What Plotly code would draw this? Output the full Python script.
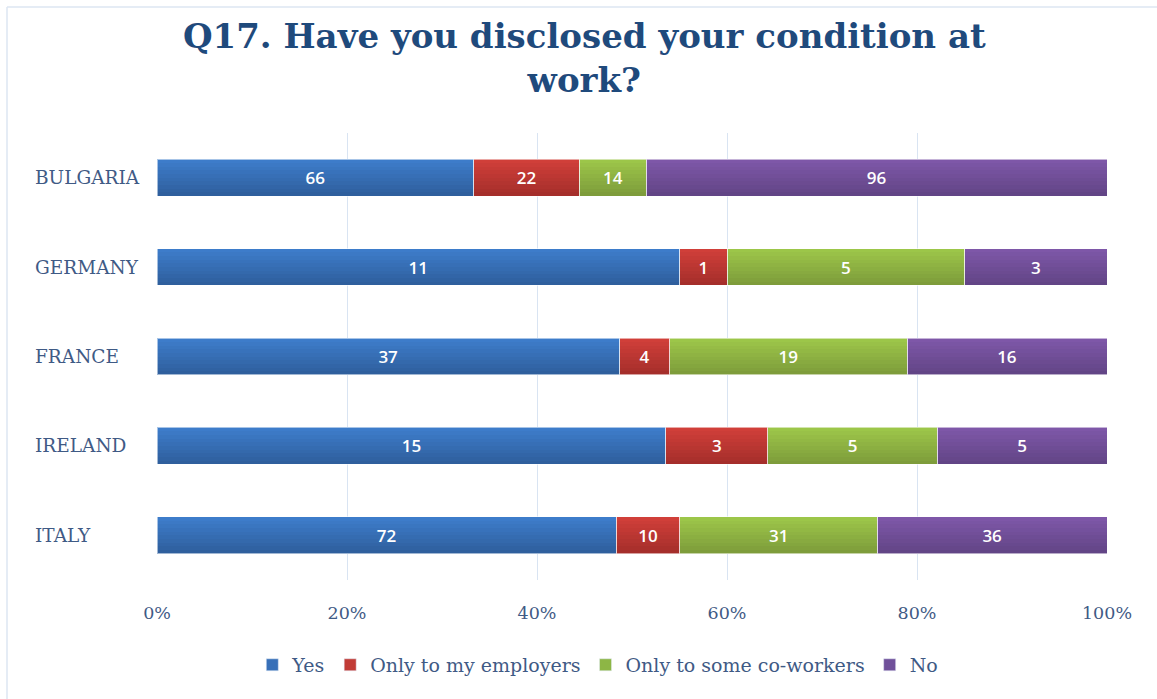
import plotly.graph_objects as go

# Survey answers per country (respondent counts)
countries = ["BULGARIA", "GERMANY", "FRANCE", "IRELAND", "ITALY"]
series_names = ["Yes", "Only to my employers", "Only to some co-workers", "No"]
yes = [66, 11, 37, 15, 72]
only_employers = [22, 1, 4, 3, 10]
only_coworkers = [14, 5, 19, 5, 31]
no = [96, 3, 16, 5, 36]
x_ticks = [0, 20, 40, 60, 80, 100]
x_tick_labels = ["0%", "20%", "40%", "60%", "80%", "100%"]

series_values = [yes, only_employers, only_coworkers, no]
# (top shade, bottom shade) for each series: bars fade darker towards the bottom
shades = [("#3E7ECC", "#2E5D9B"), ("#D2403A", "#A32D2A"),
          ("#9EC84A", "#7C9A3A"), ("#7F58AA", "#614484")]
legend_colors = ["#3870B8", "#C13B36", "#8DB645", "#70509A"]

TEXT_BLUE = "#3F5A85"
SERIF = "DejaVu Serif"
BAR_W = 0.41
N_SLICES = 10

totals = [sum(v) for v in zip(*series_values)]
percents = [[100.0 * v / t for v, t in zip(vals, totals)] for vals in series_values]


def hex_to_rgb(h):
    h = h.lstrip("#")
    return tuple(int(h[i:i + 2], 16) for i in (0, 2, 4))


def mix(c_top, c_bot, t):
    a, b = hex_to_rgb(c_top), hex_to_rgb(c_bot)
    return "rgb({},{},{})".format(*[round(x + (y - x) * t) for x, y in zip(a, b)])


fig = go.Figure()
slice_h = BAR_W / N_SLICES

# Each horizontal band of the bars lives on its own overlaid axis so the
# stacks stay independent; together they build a top-to-bottom gradient.
for k in range(N_SLICES):
    axis = "y" if k == 0 else f"y{k + 1}"
    t = 1 - (k + 0.5) / N_SLICES  # k = 0 is the bottom band (darkest)
    for s, (name, pct) in enumerate(zip(series_names, percents)):
        fig.add_trace(go.Bar(
            name=name,
            y=countries,
            x=pct,
            orientation="h",
            yaxis=axis,
            width=slice_h * 1.06,
            offset=-BAR_W / 2 + k * slice_h,
            marker=dict(color=mix(shades[s][0], shades[s][1], t), line=dict(width=0)),
            showlegend=False,
            hoverinfo="skip",
        ))

# Top layer: value labels, thin bar outline and the legend entries
text_axis = f"y{N_SLICES + 1}"
for s, (name, vals, pct) in enumerate(zip(series_names, series_values, percents)):
    fig.add_trace(go.Bar(
        name=name,
        y=countries,
        x=pct,
        orientation="h",
        yaxis=text_axis,
        width=BAR_W,
        marker=dict(color="rgba(0,0,0,0)", line=dict(color="rgba(255,255,255,0.55)", width=1)),
        text=[str(v) for v in vals],
        textposition="inside",
        insidetextanchor="middle",
        textangle=0,
        textfont=dict(family="Open Sans", size=17, color="white", weight=600),
        constraintext="none",
        showlegend=False,
        hoverinfo="skip",
    ))

# Legend entries (no visible bars)
for name, col in zip(series_names, legend_colors):
    fig.add_trace(go.Bar(
        name=name, y=[None], x=[None], orientation="h",
        marker=dict(color=col), showlegend=True, hoverinfo="skip",
    ))

# Left-aligned category labels
for c in countries:
    fig.add_annotation(
        x=-0.1305, xref="paper", y=c, yref="y",
        text=c, showarrow=False, xanchor="left", yanchor="middle",
        font=dict(family=SERIF, size=18.5, color=TEXT_BLUE),
    )

cat_order = list(reversed(countries))
base_y = dict(
    categoryorder="array", categoryarray=cat_order,
    showticklabels=False, showgrid=False, zeroline=False, showline=False,
    fixedrange=True,
)

layout_axes = {"yaxis": dict(base_y)}
for k in range(1, N_SLICES + 1):
    layout_axes[f"yaxis{k + 1}"] = dict(base_y, overlaying="y", matches="y")

fig.update_layout(
    width=1157, height=699,
    barmode="stack",
    paper_bgcolor="white",
    plot_bgcolor="white",
    margin=dict(l=157, r=50, t=133, b=119),
    title=dict(
        text="Q17. Have you disclosed your condition at<br>work?",
        x=0.505, xanchor="center", y=0.932, yanchor="middle",
        font=dict(family=SERIF, size=34, color="#1F4A7C", weight="bold"),
    ),
    showlegend=True,
    legend=dict(
        orientation="h", x=0.464, xanchor="center", y=-0.19, yanchor="middle",
        font=dict(family=SERIF, size=19, color=TEXT_BLUE),
        itemclick=False, itemdoubleclick=False,
        traceorder="normal",
    ),
    xaxis=dict(
        range=[0, 100],
        tickvals=x_ticks,
        ticktext=x_tick_labels,
        showgrid=True, gridcolor="#D9E4F2", gridwidth=1,
        zeroline=False, showline=False,
        ticks="", ticklabelstandoff=20,
        tickfont=dict(family=SERIF, size=17.5, color=TEXT_BLUE),
        fixedrange=True,
    ),
    shapes=[
        # light frame around the chart area (top and left edges)
        dict(type="line", xref="paper", yref="paper",
             x0=(7 - 157) / 950, x1=(1157 - 157) / 950,
             y0=(580 - 7) / 447, y1=(580 - 7) / 447,
             line=dict(color="#DCE6F2", width=1.5)),
        dict(type="line", xref="paper", yref="paper",
             x0=(7 - 157) / 950, x1=(7 - 157) / 950,
             y0=(580 - 699) / 447, y1=(580 - 7) / 447,
             line=dict(color="#DCE6F2", width=1.5)),
    ],
    **layout_axes,
)

fig.write_html("out.html")
